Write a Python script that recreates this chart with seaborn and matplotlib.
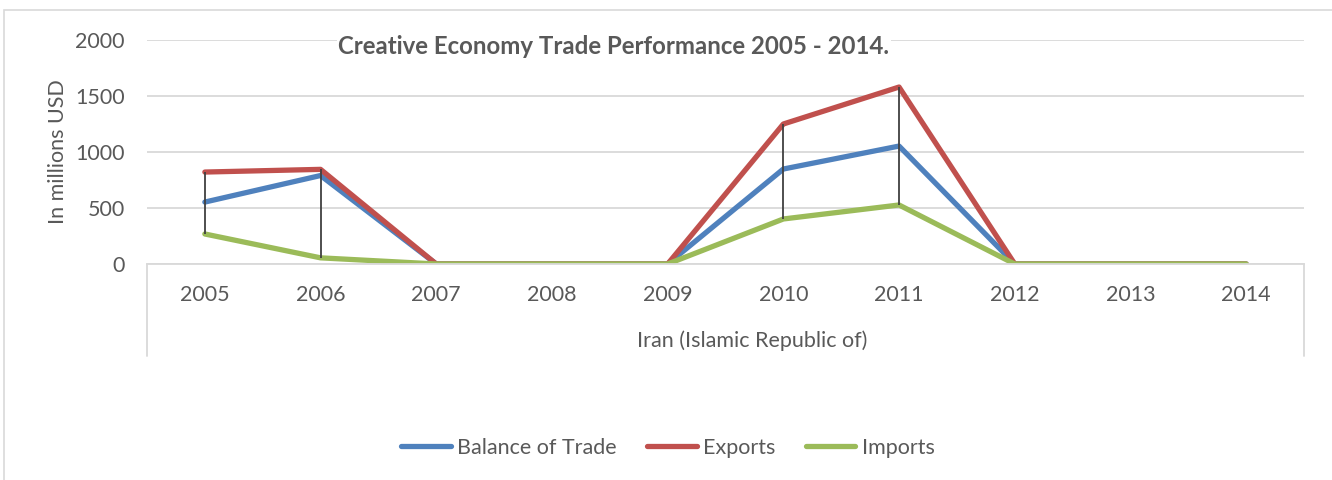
import pandas as pd
import seaborn as sns
import matplotlib.pyplot as plt
from matplotlib.lines import Line2D
from matplotlib.patches import Rectangle

# Dados (milhoes USD)
anos = ['2005', '2006', '2007', '2008', '2009', '2010', '2011', '2012', '2013', '2014']
balanca = [553, 790, 0, 0, 0, 848, 1053, 0, 0, 0]
exportacoes = [821, 845, 0, 0, 0, 1250, 1580, 0, 0, 0]
importacoes = [268, 55, 0, 0, 0, 402, 527, 0, 0, 0]
series = ['Balance of Trade', 'Exports', 'Imports']
cores = ['#4f81bd', '#c0504d', '#9bbb59']

sns.set_theme(style='white')
plt.rcParams['font.family'] = ['Lato', 'DejaVu Sans']
cinza = '#595959'
fs = 15.5

pos = list(range(len(anos)))
dados = pd.DataFrame({
    'pos': pos * 3,
    'valor': balanca + exportacoes + importacoes,
    'serie': [s for s in series for _ in anos],
})

fig = plt.figure(figsize=(13.32, 4.8), dpi=100)
ax = fig.add_axes([147 / 1332, 1 - 264 / 480, (1304 - 147) / 1332, 224 / 480])

# Linhas de maximo/minimo (high-low)
for i in pos:
    vals = [balanca[i], exportacoes[i], importacoes[i]]
    if max(vals) > 0:
        ax.vlines(i, min(vals), max(vals), color='#404040', lw=1.3, zorder=3)

sns.lineplot(data=dados, x='pos', y='valor', hue='serie', palette=cores,
             hue_order=series, linewidth=3.8, ax=ax, legend=False, zorder=2)
for ln in ax.lines:
    ln.set_solid_capstyle('round')

ax.set_xlim(-0.5, len(anos) - 0.5)
ax.set_ylim(0, 2000)
ax.set_yticks([0, 500, 1000, 1500, 2000])
ax.set_xticks(pos)
ax.set_xticklabels(anos)
ax.yaxis.grid(True, color='#d9d9d9', lw=1.3)
ax.set_axisbelow(True)
for s in ['top', 'right', 'left']:
    ax.spines[s].set_visible(False)
ax.spines['bottom'].set_color('#d9d9d9')
ax.spines['bottom'].set_linewidth(1.3)
ax.tick_params(axis='both', length=0, labelsize=fs, labelcolor=cinza)
ax.tick_params(axis='x', pad=15)
ax.tick_params(axis='y', pad=16)
ax.set_xlabel('')
ax.set_ylabel('In millions USD', fontsize=fs, color=cinza)
ax.yaxis.set_label_coords(-0.068, 0.5)

# Eixo de categorias em dois niveis
for xf in [147 / 1332, 1304 / 1332]:
    fig.add_artist(Line2D([xf, xf], [1 - 264 / 480, 1 - 356 / 480],
                          color='#d9d9d9', lw=1.3))
fig.text(752 / 1332, 1 - 341 / 480, 'Iran (Islamic Republic of)',
         ha='center', va='center', fontsize=fs, color=cinza)

fig.text(614 / 1332, 1 - 46 / 480, 'Creative Economy Trade Performance 2005 - 2014.',
         ha='center', va='center', fontsize=17.3, fontweight='bold', color=cinza,
         bbox=dict(facecolor='white', edgecolor='none', pad=1))

# Borda da area do grafico
fig.add_artist(Rectangle((4 / 1332, -0.05), 1.2, 1 - 10 / 480 + 0.05,
                         transform=fig.transFigure, fill=False,
                         edgecolor='#d9d9d9', lw=1.2))

handles = [Line2D([], [], color=c, lw=3.8, solid_capstyle='round') for c in cores]
fig.legend(handles, series, loc='center', bbox_to_anchor=(668 / 1332, 1 - 448 / 480),
           ncol=3, frameon=False, fontsize=fs, labelcolor=cinza,
           handlelength=2.3, handletextpad=0.3, columnspacing=1.4)

plt.savefig('out.png', dpi=100)
